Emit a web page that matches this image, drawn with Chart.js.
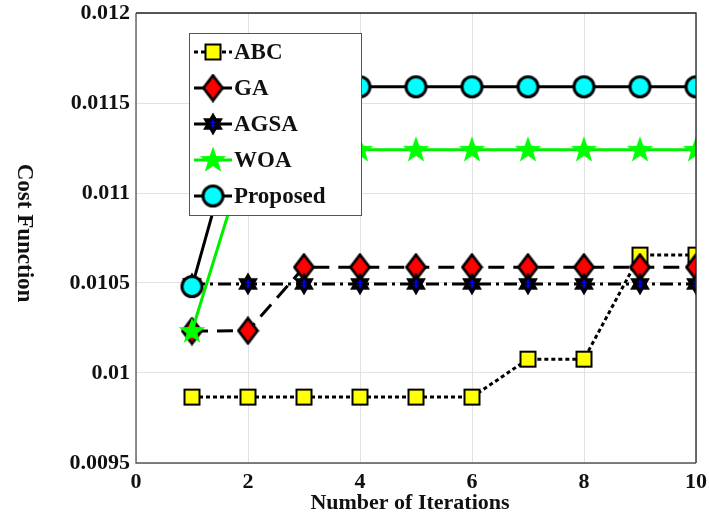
<!DOCTYPE html>
<html><head><meta charset="utf-8">
<script src="https://cdn.jsdelivr.net/npm/chart.js@4/dist/chart.umd.min.js"></script>
<style>html,body{margin:0;padding:0;background:#fff}#wrap{width:709px;height:515px;position:relative}</style>
</head><body><div id="wrap"><canvas id="c" width="709" height="515"></canvas></div>
<script>
const iterations = [1,2,3,4,5,6,7,8,9,10];
const abc      = [0.009866,0.009866,0.009866,0.009866,0.009866,0.009866,0.010077,0.010077,0.010655,0.010655];
const ga       = [0.010233,0.010235,0.010588,0.010588,0.010588,0.010588,0.010588,0.010588,0.010588,0.010588];
const agsa     = [0.010495,0.010495,0.010495,0.010495,0.010495,0.010495,0.010495,0.010495,0.010495,0.010495];
const woa      = [0.010233,0.011240,0.011240,0.011240,0.011240,0.011240,0.011240,0.011240,0.011240,0.011240];
const proposed = [0.010480,0.011590,0.011590,0.011590,0.011590,0.011590,0.011590,0.011590,0.011590,0.011590];
const seriesNames = ['ABC','GA','AGSA','WOA','Proposed'];
const xTickLabels = ['0','2','4','6','8','10'];
const yTickLabels = ['0.0095','0.01','0.0105','0.011','0.0115','0.012'];

const FONT = '"Liberation Serif","Times New Roman",serif';

function mk(w,h,draw){const c=document.createElement('canvas');c.width=w;c.height=h;const g=c.getContext('2d');draw(g,w,h);return c;}
const mSquare = mk(19,19,(g)=>{g.fillStyle='#ffff00';g.fillRect(2,2,15,15);g.lineWidth=2;g.strokeStyle='#000';g.strokeRect(2,2,15,15);});
const mDiamond = mk(23,29,(g)=>{g.beginPath();g.moveTo(11.5,2);g.lineTo(21,14.5);g.lineTo(11.5,27);g.lineTo(2,14.5);g.closePath();g.fillStyle='#ff0000';g.fill();g.lineWidth=2.8;g.strokeStyle='#000';g.stroke();});
const mHex = mk(24,26,(g)=>{const cx=12,cy=13,r=11.5;
  for(let t=0;t<2;t++){g.beginPath();for(let k=0;k<3;k++){const a=-Math.PI/2+t*Math.PI/3+k*2*Math.PI/3;const x=cx+r*Math.cos(a),y=cy+r*Math.sin(a);if(k===0)g.moveTo(x,y);else g.lineTo(x,y);}g.closePath();g.fillStyle='#000';g.fill();}
  g.fillStyle='#0000ff';g.fillRect(cx-0.75,cy-4.5,1.5,9);g.fillRect(cx-2.5,cy-2.2,5,1.3);g.fillRect(cx-2.5,cy+1,5,1.3);});
const mStar = mk(30,30,(g)=>{const cx=15,cy=15.5,R=14,r=5.6;g.beginPath();for(let k=0;k<10;k++){const a=-Math.PI/2+k*Math.PI/5;const rr=k%2?r:R;const x=cx+rr*Math.cos(a),y=cy+rr*Math.sin(a);if(k===0)g.moveTo(x,y);else g.lineTo(x,y);}g.closePath();g.fillStyle='#00ff00';g.fill();});
const mCircle = mk(25,25,(g)=>{g.beginPath();g.arc(12.5,12.5,10,0,2*Math.PI);g.fillStyle='#00ffff';g.fill();g.lineWidth=3;g.strokeStyle='#000';g.stroke();});

function pts(arr){return arr.map((v,i)=>({x:iterations[i],y:v}));}

const datasets = [
  {label:seriesNames[0],data:pts(abc),borderColor:'#000',borderWidth:3,borderDash:[4,3],pointStyle:mSquare,order:5},
  {label:seriesNames[1],data:pts(ga),borderColor:'#000',borderWidth:3,borderDash:[16,9],pointStyle:mDiamond,order:4},
  {label:seriesNames[2],data:pts(agsa),borderColor:'#000',borderWidth:3,borderDash:[13,5,3,5],pointStyle:mHex,order:3},
  {label:seriesNames[3],data:pts(woa),borderColor:'#00ee00',borderWidth:3,borderDash:[],pointStyle:mStar,order:2},
  {label:seriesNames[4],data:pts(proposed),borderColor:'#000',borderWidth:3,borderDash:[],pointStyle:mCircle,order:1}
];
datasets.forEach(d=>{d.fill=false;d.tension=0;d.pointRadius=10;d.backgroundColor='transparent';});

const decor = {
  id:'decor',
  afterDatasetsDraw(chart){
    const ctx=chart.ctx, a=chart.chartArea;
    ctx.save();
    ctx.setLineDash([]);
    ctx.lineWidth=1.3;ctx.strokeStyle='#222';
    ctx.beginPath();ctx.moveTo(a.left,a.top);ctx.lineTo(a.right,a.top);ctx.lineTo(a.right,a.bottom);ctx.stroke();
    ctx.strokeStyle='#555';
    ctx.beginPath();ctx.moveTo(a.left,a.top);ctx.lineTo(a.left,a.bottom);ctx.lineTo(a.right,a.bottom);ctx.stroke();
    const lx=189.5, ly=33.5, lw=172, lh=182;
    ctx.fillStyle='#fff';ctx.fillRect(lx,ly,lw,lh);
    ctx.lineWidth=1;ctx.strokeStyle='#555';ctx.strokeRect(lx,ly,lw,lh);
    chart.data.datasets.forEach((d,i)=>{
      const y=52+i*36;
      ctx.setLineDash(d.borderDash||[]);
      ctx.lineWidth=3;ctx.strokeStyle=d.borderColor;
      ctx.beginPath();ctx.moveTo(194,y);ctx.lineTo(232,y);ctx.stroke();
      ctx.setLineDash([]);
      const im=d.pointStyle;ctx.drawImage(im,213-im.width/2,y-im.height/2);
      ctx.fillStyle='#111';ctx.font='bold 23px '+FONT;ctx.textAlign='left';ctx.textBaseline='middle';
      ctx.fillText(d.label,234,y+1);
    });
    ctx.fillStyle='#111';ctx.font='bold 22px '+FONT;ctx.textAlign='center';ctx.textBaseline='middle';
    ctx.fillText('Number of Iterations',410,503);
    ctx.font='bold 23px '+FONT;
    ctx.translate(24,233);ctx.rotate(Math.PI/2);
    ctx.fillText('Cost Function',0,0);
    ctx.restore();
  }
};

new Chart(document.getElementById('c'),{
  type:'line',
  data:{datasets},
  options:{
    responsive:false,animation:false,
    layout:{padding:{top:12,right:12,left:0,bottom:0}},
    plugins:{legend:{display:false},tooltip:{enabled:false}},
    scales:{
      x:{type:'linear',min:0,max:10,
        ticks:{stepSize:2,padding:6,color:'#111',font:{family:FONT,size:22,weight:'bold'},maxRotation:0,
          callback:(v,i)=>xTickLabels[i]},
        grid:{color:'#e2e2e2',drawTicks:false,lineWidth:1},border:{display:false},
        afterFit:(s)=>{s.height=52;s.paddingLeft=0;s.paddingRight=0;}},
      y:{type:'linear',min:0.0095,max:0.012,
        ticks:{stepSize:0.0005,padding:6,color:'#111',font:{family:FONT,size:22,weight:'bold'},
          callback:(v,i)=>yTickLabels[i]},
        grid:{color:'#e2e2e2',drawTicks:false,lineWidth:1},border:{display:false},
        afterFit:(s)=>{s.width=136;s.paddingTop=0;s.paddingBottom=0;}}
    }
  },
  plugins:[decor]
});
</script></body></html>
